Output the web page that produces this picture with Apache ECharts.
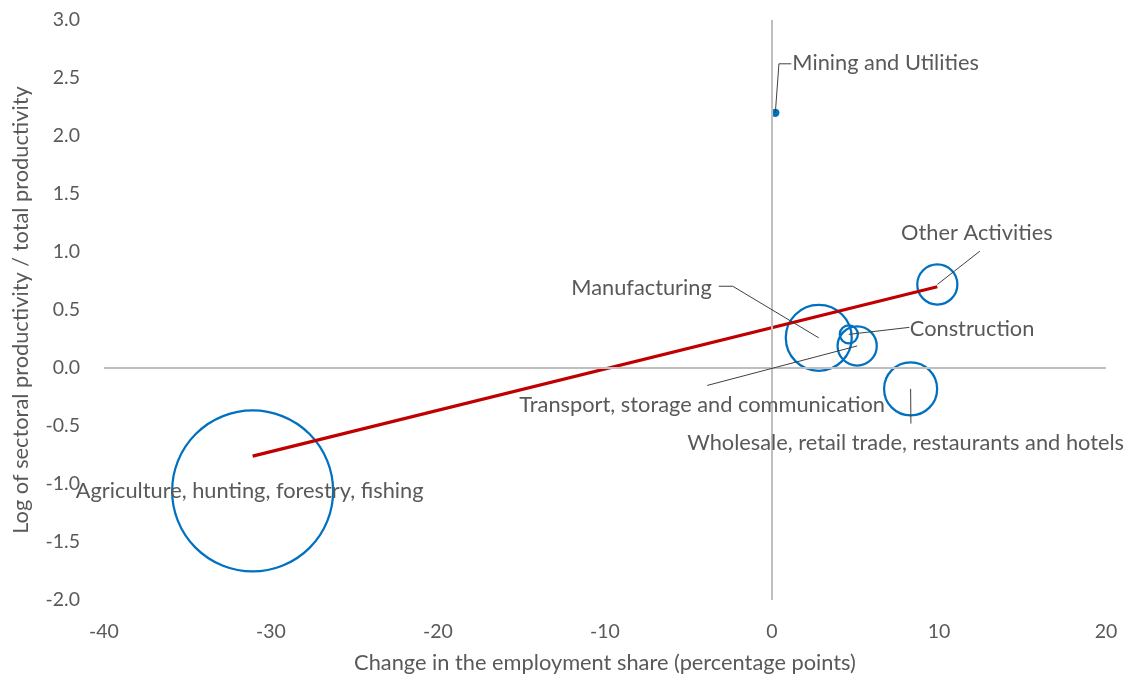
<!DOCTYPE html>
<html><head><meta charset="utf-8">
<script src="https://cdn.jsdelivr.net/npm/echarts@6/dist/echarts.min.js"></script>
<style>html,body{margin:0;padding:0;background:#fff}#c{width:1132px;height:679px}</style>
</head><body><div id="c"></div>
<script>
// ---- data ----
const sectors = [
  'Agriculture, hunting, forestry, fishing',
  'Mining and Utilities',
  'Manufacturing',
  'Construction',
  'Transport, storage and communication',
  'Wholesale, retail trade, restaurants and hotels',
  'Other Activities'
];
const employmentChange = [-31.1, 0.2, 2.8, 4.6, 5.1, 8.3, 9.9];
const logRelProductivity = [-1.06, 2.2, 0.26, 0.29, 0.19, -0.18, 0.72];
const bubbleWeight = [70.9, 0.1, 11.9, 0.9, 4.2, 7.7, 4.4];
const trendX = [-31.1, 9.9];
const trendY = [-0.76, 0.70];
const xTicks = [-40, -30, -20, -10, 0, 10, 20];
const yTicks = [-2.0, -1.5, -1.0, -0.5, 0.0, 0.5, 1.0, 1.5, 2.0, 2.5, 3.0];

// ---- styling / label layout (pixel offsets from bubble centre) ----
const FONT = 'Lato';
const TXT = '#595959';
const BLUE = '#0070C0';
const LBL = 21.8;
const labelLayout = [
  {line: [], text: [-3, 0], align: 'center'},
  {line: [[3.6, -49], [16, -49]], text: [17, -50], align: 'left'},
  {line: [[-86, -51.6], [-100, -51.6]], text: [-107, -50], align: 'right'},
  {line: [[60.5, -7]], text: [61, -5], align: 'left'},
  {line: [[-150, 39.5]], text: [-155, 59.5], align: 'center'},
  {line: [[0.3, 34.7]], text: [-5, 54], align: 'center'},
  {line: [[42.5, -33.3]], text: [39.5, -52], align: 'center'}
];

const bubbleData = sectors.map((s, i) => ({
  name: s,
  value: [employmentChange[i], logRelProductivity[i], bubbleWeight[i]],
  itemStyle: i === 1 ? {color: BLUE} : undefined
}));
const labelData = sectors.map((s, i) => [employmentChange[i], logRelProductivity[i]]);
const trendData = trendX.map((x, i) => [x, trendY[i]]);

const chart = echarts.init(document.getElementById('c'), null, {renderer: 'canvas'});
chart.setOption({
  animation: false,
  backgroundColor: '#fff',
  grid: {left: 104, right: 26, top: 20, bottom: 79},
  xAxis: {
    type: 'value', min: xTicks[0], max: xTicks[xTicks.length - 1], interval: 10,
    axisLine: {show: false}, axisTick: {show: false}, splitLine: {show: false},
    axisLabel: {color: TXT, fontFamily: FONT, fontSize: 19.5, margin: 22},
    name: 'Change in the employment share (percentage points)',
    nameLocation: 'middle', nameGap: 52,
    nameTextStyle: {color: TXT, fontFamily: FONT, fontSize: LBL}
  },
  yAxis: {
    type: 'value', min: yTicks[0], max: yTicks[yTicks.length - 1], interval: 0.5,
    axisLine: {show: false}, axisTick: {show: false}, splitLine: {show: false},
    axisLabel: {color: TXT, fontFamily: FONT, fontSize: 19.5, margin: 24,
      formatter: v => v.toFixed(1)},
    name: 'Log of sectoral productivity / total productivity',
    nameLocation: 'middle', nameGap: 72,
    nameTextStyle: {color: TXT, fontFamily: FONT, fontSize: LBL}
  },
  series: [
    {
      type: 'scatter',
      data: bubbleData,
      symbolSize: v => Math.sqrt(v[2]) * 19.12,
      itemStyle: {color: 'rgba(0,0,0,0)', borderColor: BLUE, borderWidth: 2.25, opacity: 1},
      emphasis: {disabled: true},
      silent: true,
      z: 3,
      markLine: {
        silent: true, symbol: 'none', animation: false,
        label: {show: false},
        lineStyle: {color: '#BFBFBF', width: 2, type: 'solid'},
        data: [{xAxis: 0}, {yAxis: 0}]
      }
    },
    {
      type: 'line',
      data: trendData,
      symbol: 'none',
      lineStyle: {color: '#C00000', width: 3.2},
      silent: true,
      z: 4
    },
    {
      type: 'custom',
      data: labelData,
      silent: true,
      z: 5,
      renderItem: function (params, api) {
        const i = params.dataIndex;
        const c = api.coord([api.value(0), api.value(1)]);
        const L = labelLayout[i];
        const children = [];
        if (L.line.length) {
          const pts = [[c[0], c[1]]].concat(L.line.map(p => [c[0] + p[0], c[1] + p[1]]));
          children.push({type: 'polyline', shape: {points: pts},
            style: {stroke: '#404040', lineWidth: 1, fill: null}});
        }
        children.push({type: 'text', x: c[0] + L.text[0], y: c[1] + L.text[1],
          style: {text: sectors[i], fill: TXT, fontFamily: FONT, fontSize: LBL,
            align: L.align, verticalAlign: 'middle', textAlign: L.align, textVerticalAlign: 'middle'}});
        return {type: 'group', children: children};
      }
    }
  ]
});
</script>
</body></html>
